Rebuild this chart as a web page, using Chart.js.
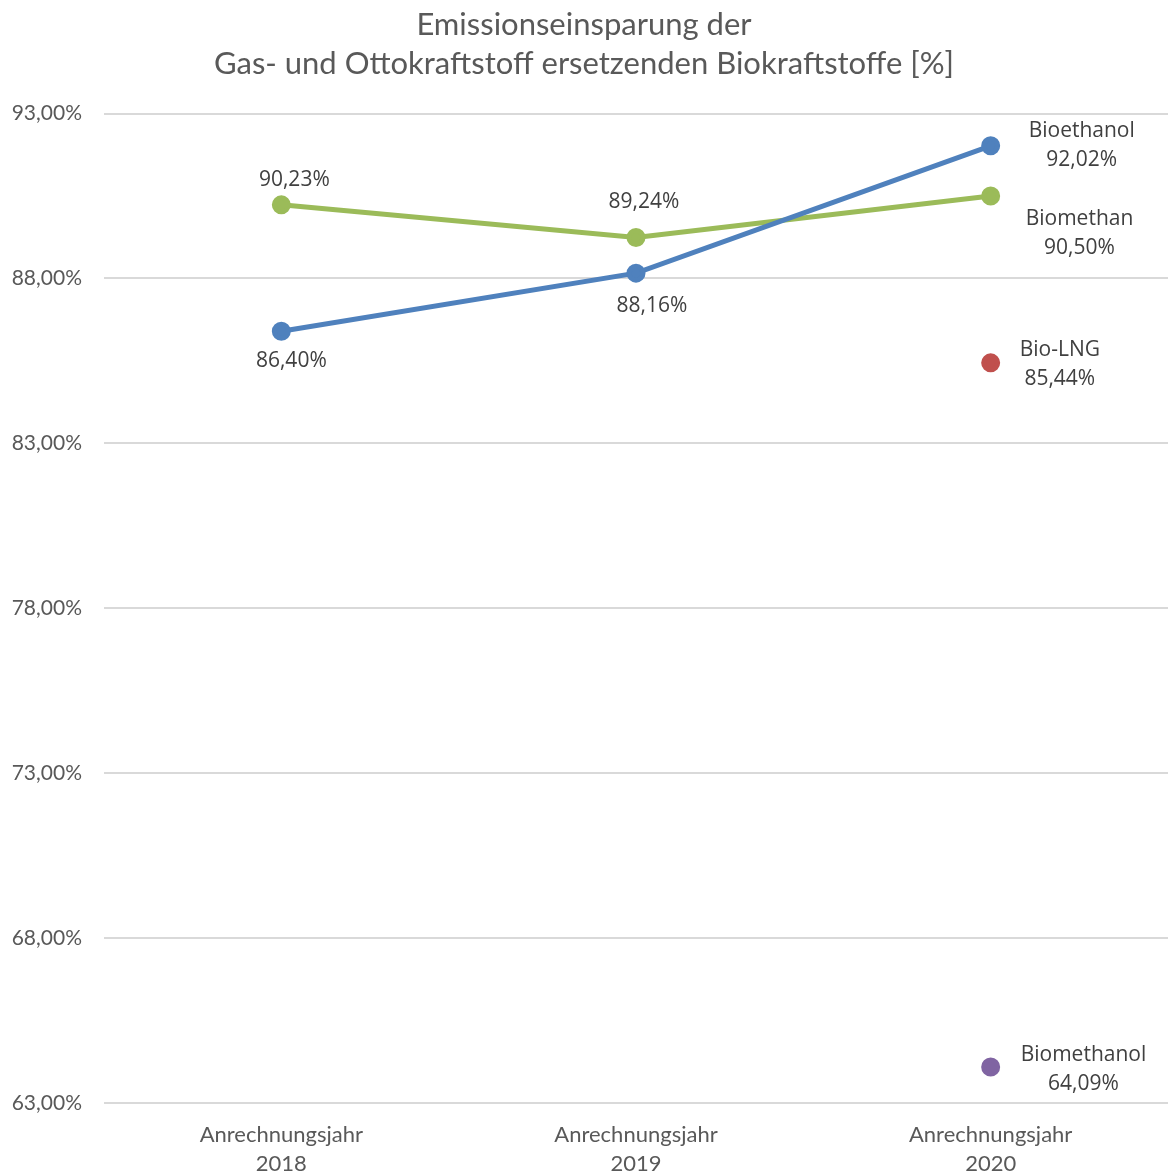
<!DOCTYPE html>
<html>
<head>
<meta charset="utf-8">
<script src="https://cdn.jsdelivr.net/npm/chart.js@4/dist/chart.umd.min.js"></script>
<style>
  html, body { margin: 0; padding: 0; background: #fff; overflow: hidden; }
  #wrap { width: 1168px; height: 1175px; position: relative; }
  canvas { display: block; }
</style>
</head>
<body>
<div id="wrap"><canvas id="chart"></canvas></div>
<script>
const years = [['Anrechnungsjahr', '2018'], ['Anrechnungsjahr', '2019'], ['Anrechnungsjahr', '2020']];
const bioethanol = [86.40, 88.16, 92.02];
const biomethan = [90.23, 89.24, 90.50];
const bioLng = [null, null, 85.44];
const biomethanol = [null, null, 64.09];
const yMin = 63, yMax = 93, yStep = 5;

const fmt = v => v.toFixed(2).replace('.', ',') + '%';

// where each point's label goes: [dx, dy] for values, 'r' = name + value to the right
const labelSpots = {
    Bioethanol: [[10, 30], [16, 33], ['r', 38, -15]],
    Biomethan: [[13, -25], [8, -36], ['r', 35, 23]],
    'Bio-LNG': [null, null, ['r', 29, -13]],
    Biomethanol: [null, null, ['r', 30, -12]]
};

const labelPlugin = {
    id: 'pointLabels',
    afterDatasetsDraw(chart) {
        const ctx = chart.ctx;
        ctx.save();
        ctx.font = '21px "Open Sans"';
        ctx.fillStyle = '#404040';
        ctx.textBaseline = 'middle';
        chart.data.datasets.forEach((ds, i) => {
            const meta = chart.getDatasetMeta(i);
            const spots = labelSpots[ds.label];
            meta.data.forEach((pt, j) => {
                const v = ds.data[j];
                if (v == null || !spots[j]) return;
                const s = spots[j];
                ctx.textAlign = 'center';
                if (s[0] === 'r') {
                    const lines = [ds.label, fmt(v)];
                    const w = Math.max(...lines.map(t => ctx.measureText(t).width));
                    const cx = pt.x + s[1] + w / 2;
                    ctx.fillText(lines[0], cx, pt.y + s[2]);
                    ctx.fillText(lines[1], cx, pt.y + s[2] + 29);
                } else {
                    ctx.fillText(fmt(v), pt.x + s[0], pt.y + s[1]);
                }
            });
        });
        ctx.restore();
    }
};

const mk = (label, data, color) => ({
    label, data,
    borderColor: color,
    backgroundColor: color,
    pointBackgroundColor: color,
    pointBorderColor: color,
    borderWidth: 5,
    pointRadius: 7,
    pointHoverRadius: 7,
    tension: 0,
    spanGaps: false,
    clip: false
});

new Chart(document.getElementById('chart'), {
    type: 'line',
    data: {
        labels: years,
        datasets: [
            mk('Bioethanol', bioethanol, '#4F81BD'),
            mk('Biomethan', biomethan, '#9BBB59'),
            mk('Bio-LNG', bioLng, '#C0504D'),
            mk('Biomethanol', biomethanol, '#8064A2')
        ]
    },
    options: {
        responsive: true,
        maintainAspectRatio: false,
        animation: false,
        layout: { padding: 0, autoPadding: false },
        plugins: {
            legend: { display: false },
            tooltip: { enabled: false },
            title: {
                display: true,
                text: ['Emissionseinsparung der', 'Gas- und Ottokraftstoff ersetzenden Biokraftstoffe [%]'],
                color: '#595959',
                font: { family: 'Lato', size: 31, weight: 'normal', lineHeight: 1.25 },
                padding: { top: 6, bottom: 30 }
            }
        },
        scales: {
            x: {
                offset: true,
                grid: { display: false },
                border: { display: false },
                ticks: {
                    color: '#595959',
                    font: { family: 'Lato', size: 22, lineHeight: 1.32 },
                    padding: 9,
                    maxRotation: 0
                },
                afterFit: s => {
                    s.height = 72;
                    s.paddingLeft = 0;
                    s.paddingRight = 0;
                }
            },
            y: {
                min: yMin,
                max: yMax,
                grid: { color: '#D9D9D9', lineWidth: 2, drawTicks: false },
                border: { display: false },
                ticks: {
                    stepSize: yStep,
                    color: '#595959',
                    font: { family: 'Lato', size: 21 },
                    padding: 22,
                    callback: v => fmt(v)
                },
                afterFit: s => { s.width = 104; }
            }
        }
    },
    plugins: [labelPlugin]
});
</script>
</body>
</html>
